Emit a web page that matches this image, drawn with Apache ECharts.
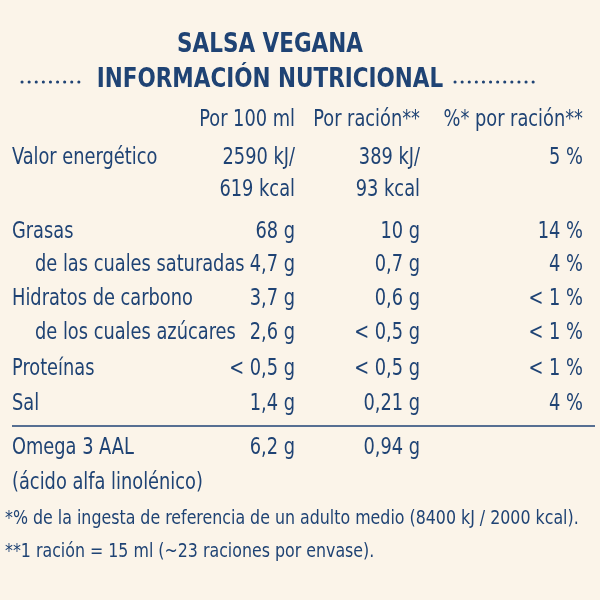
<!DOCTYPE html>
<html><head><meta charset="utf-8">
<script src="https://cdn.jsdelivr.net/npm/echarts@6/dist/echarts.min.js"></script>
<style>html,body{margin:0;background:#fbf4e9}#c{width:600px;height:600px}</style>
</head><body><div id="c"></div>
<script>
const headers = ["Por 100 ml","Por ración**","%* por ración**"];
const labels = ["Valor energético","","Grasas","de las cuales saturadas","Hidratos de carbono","de los cuales azúcares","Proteínas","Sal"];
const indent = [0,0,0,1,0,1,0,0];
const per100 = ["2590 kJ/","619 kcal","68 g","4,7 g","3,7 g","2,6 g","< 0,5 g","1,4 g"];
const perServ = ["389 kJ/","93 kcal","10 g","0,7 g","0,6 g","< 0,5 g","< 0,5 g","0,21 g"];
const pct = ["5 %","","14 %","4 %","< 1 %","< 1 %","< 1 %","4 %"];
const rowY = [158,190,232,265,299,333,369,404];
const omega = ["Omega 3 AAL","(ácido alfa linolénico)","6,2 g","0,94 g"];
const notes = ["*% de la ingesta de referencia de un adulto medio (8400 kJ / 2000 kcal).","**1 ración = 15 ml (~23 raciones por envase)."];
const C = "#1f4374", F = "DejaVu Sans Condensed";
const g = [];
function t(x,y,s,size,align,bold,sx){g.push({type:'text',x:x,y:y,scaleX:sx||0.86,style:{text:s,fill:C,font:(bold?'bold ':'')+size+'px "'+F+'"',textAlign:align||'left',textVerticalAlign:'middle'}});}
t(270,45,"SALSA VEGANA",26,'center',true,0.92);
t(270,80,"INFORMACIÓN NUTRICIONAL",26,'center',true,0.92);
[[22,85],[455,540]].forEach(([a,b])=>g.push({type:'line',shape:{x1:a,y1:82,x2:b,y2:82},style:{stroke:C,lineWidth:3,lineDash:[0.1,7],lineCap:'round'}}));
t(295,120,headers[0],23,'right');t(420,120,headers[1],23,'right');t(583,120,headers[2],23,'right');
labels.forEach((l,i)=>{
  t(indent[i]?35:12,rowY[i],l,23,'left');
  t(295,rowY[i],per100[i],23,'right');
  t(420,rowY[i],perServ[i],23,'right');
  t(583,rowY[i],pct[i],23,'right');
});
g.push({type:'line',shape:{x1:12,y1:426,x2:595,y2:426},style:{stroke:C,lineWidth:1.5}});
t(12,448,omega[0],23,'left');t(12,483,omega[1],23,'left');
t(295,448,omega[2],23,'right');t(420,448,omega[3],23,'right');
t(5,519,notes[0],20,'left',false,0.88);t(5,552,notes[1],20,'left',false,0.88);
const ch = echarts.init(document.getElementById('c'));
ch.setOption({backgroundColor:'#fbf4e9',graphic:g});
</script></body></html>
